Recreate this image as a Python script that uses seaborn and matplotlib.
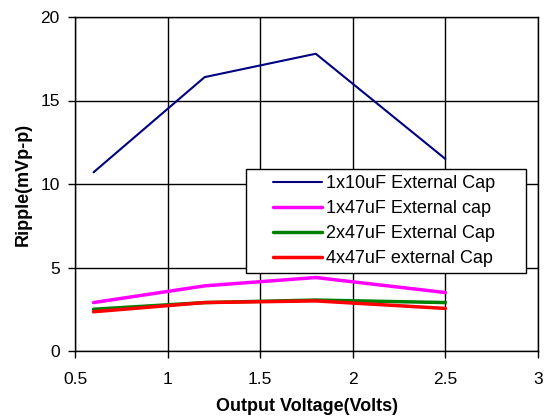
import pandas as pd
import matplotlib
matplotlib.use("Agg")
import matplotlib.pyplot as plt
from matplotlib.patches import Rectangle
import seaborn as sns

# dados
tensao = [0.6, 1.2, 1.8, 2.5]
cap_1x10 = [10.7, 16.4, 17.8, 11.5]
cap_1x47 = [2.9, 3.9, 4.4, 3.5]
cap_2x47 = [2.5, 2.9, 3.05, 2.9]
cap_4x47 = [2.35, 2.9, 3.0, 2.55]
series = ['1x10uF External Cap', '1x47uF External cap',
          '2x47uF External Cap', '4x47uF external Cap']
cores = ['#000080', '#FF00FF', '#008000', '#FF0000']
larguras = [1.5, 2.5, 2.5, 2.5]

df = pd.concat([
    pd.DataFrame({'Tensao': tensao, 'Ripple': v, 'Serie': s})
    for v, s in zip([cap_1x10, cap_1x47, cap_2x47, cap_4x47], series)
])

sns.set_style('white')
plt.rcParams['font.family'] = ['Liberation Sans', 'DejaVu Sans']
plt.rcParams['text.color'] = 'black'
plt.rcParams['axes.labelcolor'] = 'black'
plt.rcParams['xtick.color'] = 'black'
plt.rcParams['ytick.color'] = 'black'

W, H = 544, 417
fig = plt.figure(figsize=(W / 100, H / 100), dpi=100)
ax = fig.add_axes([75 / W, 1 - 351 / H, 463 / W, 334 / H])

for s, c, lw in zip(series, cores, larguras):
    sns.lineplot(data=df[df['Serie'] == s], x='Tensao', y='Ripple',
                 color=c, linewidth=lw, label=s, ax=ax)

ax.set_xlim(0.5, 3)
ax.set_ylim(0, 20)
ax.set_xticks([0.5, 1, 1.5, 2, 2.5, 3])
ax.set_xticklabels(['0.5', '1', '1.5', '2', '2.5', '3'])
ax.set_yticks([0, 5, 10, 15, 20])
ax.grid(True, color='black', linewidth=1)
ax.set_axisbelow(True)
for sp in ax.spines.values():
    sp.set_color('black')
    sp.set_linewidth(1)
ax.tick_params(direction='out', length=5, width=1, color='black',
               labelsize=12.5, labelcolor='black', left=True, bottom=True)
ax.tick_params(axis='x', pad=10)
ax.tick_params(axis='y', pad=6)
ax.set_xlabel('Output Voltage(Volts)', fontsize=13, fontweight='bold', labelpad=8)
ax.set_ylabel('Ripple(mVp-p)', fontsize=13, fontweight='bold', labelpad=6)

# moldura da legenda
caixa = Rectangle((246 / W, 1 - 273 / H), 280 / W, 104 / H,
                  transform=fig.transFigure, facecolor='white',
                  edgecolor='black', linewidth=1, zorder=4.5, clip_on=False)
ax.add_patch(caixa)

leg = ax.legend(loc='upper left', bbox_to_anchor=(273 / W, 1 - 175 / H),
                bbox_transform=fig.transFigure, fontsize=13, frameon=False,
                handlelength=2.7, handletextpad=0.25, borderpad=0,
                borderaxespad=0, labelspacing=0.45)
leg.set_zorder(5)

fig.savefig('out.png', dpi=100)
